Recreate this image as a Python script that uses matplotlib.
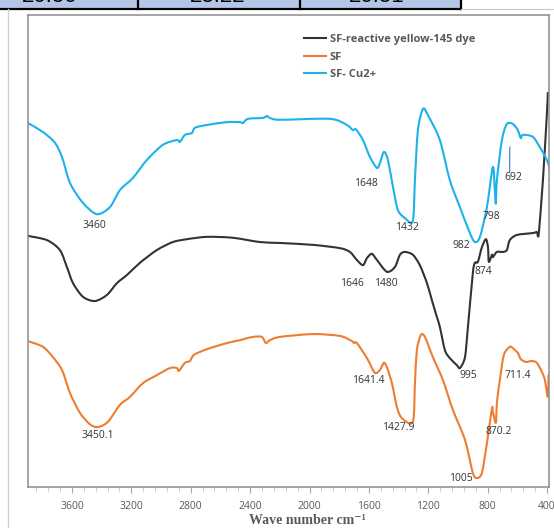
import numpy as np
import matplotlib

matplotlib.use("Agg")
import matplotlib.pyplot as plt
from matplotlib.ticker import MultipleLocator
from matplotlib.lines import Line2D
from matplotlib.path import Path
from matplotlib.patches import PathPatch

# FTIR spectra (wavenumber in cm-1, offset transmittance)
dye_wn = [3896, 3768, 3681, 3634, 3593, 3526, 3445, 3364, 3297, 3230, 3142, 3028,
          2920, 2826, 2691, 2516, 2334, 2199, 1977, 1795, 1728, 1681, 1640, 1613,
          1580, 1546, 1479, 1425, 1391, 1358, 1304, 1257, 1209, 1176, 1142, 1122,
          1088, 1055, 1007, 987, 953, 933, 900, 886, 866, 839, 812, 798, 792, 771,
          765, 738, 698, 671, 651, 603, 496, 469, 462, 455, 428, 401, 395]
dye_t = [53.2, 52.3, 50.2, 46.6, 43.2, 40.3, 39.4, 40.7, 43.2, 44.9, 47.5, 50.2,
         51.9, 52.5, 53.0, 52.8, 51.9, 51.7, 51.3, 50.6, 49.8, 48.1, 47.0, 48.5,
         49.4, 48.1, 45.6, 46.6, 49.2, 49.8, 49.2, 47.0, 43.2, 39.6, 36.0, 33.9,
         29.0, 27.3, 25.8, 25.2, 27.5, 33.9, 45.3, 47.5, 47.7, 50.8, 52.5, 50.8,
         47.7, 49.2, 48.7, 49.8, 49.8, 50.2, 52.3, 53.4, 53.8, 54.0, 53.2, 54.0,
         65.0, 79.2, 83.5]

sf_wn = [3896, 3795, 3728, 3667, 3613, 3546, 3479, 3425, 3358, 3277, 3209, 3122,
         3028, 2940, 2893, 2880, 2839, 2805, 2778, 2691, 2556, 2469, 2435, 2381,
         2321, 2294, 2267, 2199, 1977, 1795, 1714, 1701, 1681, 1613, 1560, 1526,
         1499, 1479, 1445, 1411, 1378, 1304, 1290, 1277, 1250, 1223, 1169, 1102,
         1034, 953, 900, 873, 839, 805, 771, 765, 745, 738, 718, 691, 651, 630,
         597, 577, 543, 502, 469, 435, 415, 395, 390]
sf_t = [30.9, 29.7, 27.5, 24.8, 19.9, 15.7, 13.3, 12.7, 13.8, 17.4, 19.1, 22.0,
        23.7, 25.2, 25.2, 24.6, 26.3, 26.7, 28.0, 29.2, 30.5, 31.1, 31.4, 31.8,
        31.8, 30.5, 31.1, 31.8, 32.4, 32.0, 30.9, 30.5, 30.5, 27.3, 24.2, 24.8,
        26.3, 25.4, 22.0, 16.9, 14.6, 13.8, 22.0, 29.0, 32.2, 31.8, 27.5, 22.7,
        16.3, 10.0, 3.0, 1.9, 3.0, 9.3, 16.7, 15.9, 13.6, 17.8, 22.7, 28.0, 29.7,
        29.4, 28.4, 27.1, 26.5, 26.7, 26.3, 24.4, 22.7, 19.1, 23.7]

cu_wn = [3896, 3795, 3714, 3667, 3613, 3526, 3432, 3344, 3277, 3189, 3095, 2987,
         2893, 2873, 2839, 2792, 2772, 2691, 2556, 2469, 2448, 2415, 2314, 2287,
         2267, 2199, 1863, 1748, 1708, 1688, 1640, 1593, 1546, 1526, 1499, 1472,
         1438, 1405, 1358, 1304, 1290, 1270, 1236, 1203, 1122, 1055, 987, 920,
         886, 852, 805, 765, 751, 745, 738, 704, 671, 630, 597, 577, 563, 496,
         449, 401, 381]
cu_t = [77.1, 75.2, 72.9, 69.9, 64.4, 60.2, 57.8, 59.3, 62.9, 65.5, 69.3, 72.5,
        73.5, 73.1, 74.6, 75.0, 76.1, 76.7, 77.3, 77.3, 77.1, 78.0, 78.2, 78.6,
        78.2, 77.8, 78.0, 76.7, 75.6, 75.8, 73.5, 69.9, 67.6, 68.6, 71.0, 69.3,
        63.6, 58.7, 57.0, 56.4, 65.0, 75.6, 80.1, 78.8, 73.5, 65.0, 59.3, 53.8,
        51.9, 53.0, 59.3, 67.8, 62.3, 60.0, 65.0, 73.5, 76.9, 76.9, 75.6, 73.9,
        74.6, 74.2, 72.0, 69.3, 67.2]

series_names = ["SF-reactive yellow-145 dye", "SF", "SF- Cu2+"]
series_colors = ["#333333", "#ED7D31", "#1CB2EC"]

# peak labels: (text, wavenumber, transmittance)
cu_peaks = [("3460", 3452, 55.5), ("1648", 1620, 64.4), ("1432", 1344, 54.9),
            ("982", 974, 51.1), ("798", 778, 57.4), ("692", 624, 65.5)]
dye_peaks = [("1646", 1714, 43.2), ("1480", 1485, 43.2), ("874", 832, 45.6),
             ("995", 927, 23.7)]
sf_peaks = [("3450.1", 3425, 11.0), ("1641.4", 1607, 22.5), ("1427.9", 1405, 12.7),
            ("1005", 981, 1.7), ("870.2", 725, 11.7), ("711.4", 597, 23.7)]


def smooth_path(x, y, k=1 / 7):
    # Catmull-Rom style cubic segments through every point (like a smoothed line)
    p = np.column_stack([x, y]).astype(float)
    n = len(p)
    verts = [p[0]]
    codes = [Path.MOVETO]
    for i in range(n - 1):
        p0 = p[max(i - 1, 0)]
        p1 = p[i]
        p2 = p[i + 1]
        p3 = p[min(i + 2, n - 1)]
        verts += [p1 + (p2 - p0) * k, p2 - (p3 - p1) * k, p2]
        codes += [Path.CURVE4] * 3
    return Path(verts, codes)


W, H = 554, 528
fig = plt.figure(figsize=(W / 100, H / 100), dpi=100)
fig.patch.set_facecolor("white")

# bits of the surrounding page
fig.patches.append(plt.Rectangle((0, 1 - 9 / H), 461 / W, 9 / H, transform=fig.transFigure,
                                 facecolor="#B4C6E7", edgecolor="none"))
fig.add_artist(Line2D([0, 461 / W], [1 - 9 / H] * 2, transform=fig.transFigure,
                      color="black", lw=1.6))
for xp in [138, 300, 461]:
    fig.add_artist(Line2D([xp / W] * 2, [1 - 9 / H, 1], transform=fig.transFigure,
                          color="black", lw=1.6))
fig.add_artist(Line2D([461 / W, 1], [1 - 9 / H] * 2, transform=fig.transFigure,
                      color="#C8C8C8", lw=0.8))
fig.add_artist(Line2D([8 / W] * 2, [0, 1 - 9 / H], transform=fig.transFigure,
                      color="#D0D0D0", lw=1.0))
for txt, xp in [("20.50", 50), ("23.22", 218), ("20.51", 377)]:
    fig.text(xp / W, 1 - 1.5 / H, txt, ha="center", va="baseline", fontsize=16,
             family="Liberation Sans")

ax = fig.add_axes([28 / W, (H - 487) / H, (549 - 28) / W, (487 - 15) / H])
for wn, t, c in [(dye_wn, dye_t, series_colors[0]), (sf_wn, sf_t, series_colors[1]),
                 (cu_wn, cu_t, series_colors[2])]:
    ax.add_patch(PathPatch(smooth_path(wn, t), facecolor="none", edgecolor=c,
                           lw=1.5, capstyle="round", joinstyle="round"))

ax.set_xlim(3896, 387)
ax.set_ylim(0, 100)
ax.xaxis.set_major_locator(MultipleLocator(400))
ax.xaxis.set_minor_locator(MultipleLocator(80))
ax.set_yticks([])
ax.tick_params(axis="x", which="major", direction="out", length=4, color="#A6A6A6",
               labelsize=7.5, labelcolor="#595959", pad=6)
ax.tick_params(axis="x", which="minor", direction="out", length=3, color="#BFBFBF")
for lab in ax.get_xticklabels():
    lab.set_family("Open Sans")
for sp in ax.spines.values():
    sp.set_color("#8C8C8C")
    sp.set_linewidth(1.1)

for peaks in (cu_peaks, dye_peaks, sf_peaks):
    for txt, wn, t in peaks:
        ax.text(wn, t, txt, ha="center", va="center", fontsize=7.5, color="#333333",
                family="Open Sans")
# leader line for the 692 band
ax.plot([651, 652], [72.0, 66.7], color="#4472C4", lw=0.8)

handles = [Line2D([], [], color=c, lw=1.5) for c in series_colors]
ax.legend(handles, series_names, loc="upper left",
          bbox_to_anchor=(266 / (549 - 28), 1 - 9 / (487 - 15)),
          frameon=False, handlelength=2.0, handletextpad=0.3, labelspacing=0.6,
          prop={"family": "Open Sans", "size": 8, "weight": "bold"},
          labelcolor="#595959")

fig.text(307 / W, 1 - 520 / H, "Wave number cm\u207b\u00b9", ha="center", va="center",
         fontsize=10, fontweight="bold", color="#595959",
         family=["Liberation Serif", "DejaVu Serif"])

fig.savefig("out.png", dpi=100)
